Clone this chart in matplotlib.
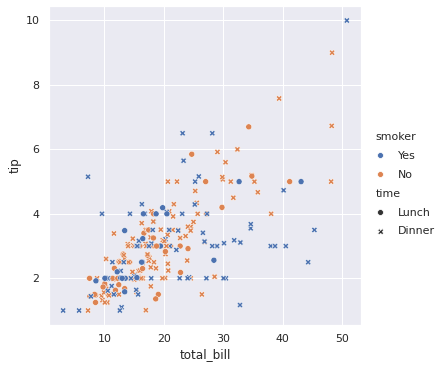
import matplotlib
matplotlib.use("Agg")
import matplotlib.pyplot as plt
from matplotlib.lines import Line2D
from matplotlib.offsetbox import HPacker, DrawingArea
import seaborn as sns
import pandas as pd

total_bill = [16.99,10.34,21.01,23.68,24.59,25.29,8.77,26.88,15.04,14.78,10.27,35.26,15.42,18.43,14.83,21.58,10.33,16.29,16.97,20.65,
17.92,20.29,15.77,39.42,19.82,17.81,13.37,12.69,21.7,19.65,9.55,18.35,15.06,20.69,17.78,24.06,16.31,16.93,18.69,31.27,
16.04,17.46,13.94,9.68,30.4,18.29,22.23,32.4,28.55,18.04,12.54,10.29,34.81,9.94,25.56,19.49,38.01,26.41,11.24,48.27,
20.29,13.81,11.02,18.29,17.59,20.08,16.45,3.07,20.23,15.01,12.02,17.07,26.86,25.28,14.73,10.51,17.92,27.2,22.76,17.29,
19.44,16.66,10.07,32.68,15.98,34.83,13.03,18.28,24.71,21.16,28.97,22.49,5.75,16.32,22.75,40.17,27.28,12.03,21.01,12.46,
11.35,15.38,44.3,22.42,20.92,15.36,20.49,25.21,18.24,14.31,14.0,7.25,38.07,23.95,25.71,17.31,29.93,10.65,12.43,24.08,
11.69,13.42,14.26,15.95,12.48,29.8,8.52,14.52,11.38,22.82,19.08,20.27,11.17,12.26,18.26,8.51,10.33,14.15,16.0,13.16,
17.47,34.3,41.19,27.05,16.43,8.35,18.64,11.87,9.78,7.51,14.07,13.13,17.26,24.55,19.77,29.85,48.17,25.0,13.39,16.49,
21.5,12.66,16.21,13.81,17.51,24.52,20.76,31.71,10.59,10.63,50.81,15.81,7.25,31.85,16.82,32.9,17.89,14.48,9.6,34.63,
34.65,23.33,45.35,23.17,40.55,20.69,20.9,30.46,18.15,23.1,15.69,19.81,28.44,15.48,16.58,7.56,10.34,43.11,13.0,13.51,
18.71,12.74,13.0,16.4,20.53,16.47,26.59,38.73,24.27,12.76,30.06,25.89,48.33,13.27,28.17,12.9,28.15,11.59,7.74,30.14,
12.16,13.42,8.58,15.98,13.42,16.27,10.09,20.45,13.28,22.12,24.01,15.69,11.61,10.77,15.53,10.07,12.6,32.83,35.83,29.03,
27.18,22.67,17.82,18.78]

tip = [1.01,1.66,3.5,3.31,3.61,4.71,2.0,3.12,1.96,3.23,1.71,5.0,1.57,3.0,3.02,3.92,1.67,3.71,3.5,3.35,
4.08,2.75,2.23,7.58,3.18,2.34,2.0,2.0,4.3,3.0,1.45,2.5,3.0,2.45,3.27,3.6,2.0,3.07,2.31,5.0,
2.24,2.54,3.06,1.32,5.6,3.0,5.0,6.0,2.05,3.0,2.5,2.6,5.2,1.56,4.34,3.51,3.0,1.5,1.76,6.73,
3.21,2.0,1.98,3.76,2.64,3.15,2.47,1.0,2.01,2.09,1.97,3.0,3.14,5.0,2.2,1.25,3.08,4.0,3.0,2.71,
3.0,3.4,1.83,5.0,2.03,5.17,2.0,4.0,5.85,3.0,3.0,3.5,1.0,4.3,3.25,4.73,4.0,1.5,3.0,1.5,
2.5,3.0,2.5,3.48,4.08,1.64,4.06,4.29,3.76,4.0,3.0,1.0,4.0,2.55,4.0,3.5,5.07,1.5,1.8,2.92,
2.31,1.68,2.5,2.0,2.52,4.2,1.48,2.0,2.0,2.18,1.5,2.83,1.5,2.0,3.25,1.25,2.0,2.0,2.0,2.75,
3.5,6.7,5.0,5.0,2.3,1.5,1.36,1.63,1.73,2.0,2.5,2.0,2.74,2.0,2.0,5.14,5.0,3.75,2.61,2.0,
3.5,2.5,2.0,2.0,3.0,3.48,2.24,4.5,1.61,2.0,10.0,3.16,5.15,3.18,4.0,3.11,2.0,2.0,4.0,3.55,
3.68,5.65,3.5,6.5,3.0,5.0,3.5,2.0,3.5,4.0,1.5,4.19,2.56,2.02,4.0,1.44,2.0,5.0,2.0,2.0,
4.0,2.01,2.0,2.5,4.0,3.23,3.41,3.0,2.03,2.23,2.0,5.16,9.0,2.5,6.5,1.1,3.0,1.5,1.44,3.09,
2.2,3.48,1.92,3.0,1.58,2.5,2.0,3.0,2.72,2.88,2.0,3.0,3.39,1.47,3.0,1.25,1.0,1.17,4.67,5.92,
2.0,2.0,1.75,3.0]

smoker = ("N N N N N N N N N N N N N N N N N N N N "
          "N N N N N N N N N N N N N N N N N N N N "
          "N N N N N N N N N N N N N N N N Y N Y N "
          "Y Y Y Y N N N Y N Y N N Y Y N N Y N N N "
          "Y N N Y N N N N N N Y N Y Y N Y Y Y Y N "
          "Y Y Y Y N Y Y Y N Y N N N N N N N N N N "
          "N N N N N N N N N N N N N N N N N N Y N "
          "N N N N N N N N N N N N N N N N N N N N "
          "N N N N Y N N N Y Y Y Y Y Y Y Y Y Y Y Y "
          "Y Y Y Y Y N Y Y Y Y Y Y Y Y Y N Y Y Y Y "
          "Y Y Y Y Y Y Y Y Y Y Y Y N Y Y Y Y Y Y Y "
          "Y Y Y N Y Y Y N N Y Y Y N N Y N Y Y N N "
          "Y Y N N").split()
smoker = ["Yes" if s == "Y" else "No" for s in smoker]

time = ("D D D D D D D D D D D D D D D D D D D D "
        "D D D D D D D D D D D D D D D D D D D D "
        "D D D D D D D D D D D D D D D D D D D D "
        "D D D D D D D D D D D D D D D D D L L L "
        "L L L L L L L L L L D D D D D D D D D D "
        "D D D D D D D D D D D D D D D D D L L L "
        "L L L L L L L L L L L L L L L L L L L L "
        "L L L L L L L L L L D D D D D D D D D D "
        "D D D D D D D D D D D D D D D D D D D D "
        "D D D D D D D D D D D L L L L L L L L L "
        "L L L L L L D D D D D D D D D D D D D D "
        "L L L L L L L D D D D D D D D D D D D D "
        "D D D L").split()
time = ["Lunch" if t == "L" else "Dinner" for t in time]

hue_levels = ["Yes", "No"]
style_levels = ["Lunch", "Dinner"]

df = pd.DataFrame({"total_bill": total_bill, "tip": tip, "smoker": smoker, "time": time})

sns.set_theme()
W, H = 447, 369
fig = plt.figure(figsize=(W / 72, H / 72), dpi=72)
ax = fig.add_axes([49 / W, (H - 325) / H, (361 - 49) / W, (325 - 6) / H])
palette = sns.color_palette("deep", 2)
markers = {"Lunch": "o", "Dinner": "X"}
sns.scatterplot(data=df, x="total_bill", y="tip", hue="smoker", style="time",
                hue_order=hue_levels, style_order=style_levels,
                palette=dict(zip(hue_levels, palette)), markers=markers,
                legend=False, ax=ax)

def mk(marker, color, visible=True):
    h = Line2D([], [], linestyle="", marker=marker, color=color, markersize=6,
               markeredgecolor="white", markeredgewidth=0.75)
    h.set_visible(visible)
    return h

handles = [mk("o", "w", False)]
labels = ["smoker"]
for lvl, c in zip(hue_levels, palette):
    handles.append(mk("o", c)); labels.append(lvl)
handles.append(mk("o", "w", False)); labels.append("time")
for lvl in style_levels:
    handles.append(mk(markers[lvl], ".2")); labels.append(lvl)

leg = fig.legend(handles, labels, loc="center left", bbox_to_anchor=(359 / W, 0.5),
                 frameon=False, fontsize=11, labelspacing=0.8, handletextpad=0.6)
for hp in leg.findobj(HPacker):
    ch = hp.get_children()
    if len(ch) == 2 and isinstance(ch[0], DrawingArea):
        arts = ch[0].get_children()
        if arts and not all(a.get_visible() for a in arts):
            ch[0].set_width(0)

fig.savefig("out.png", dpi=72)
